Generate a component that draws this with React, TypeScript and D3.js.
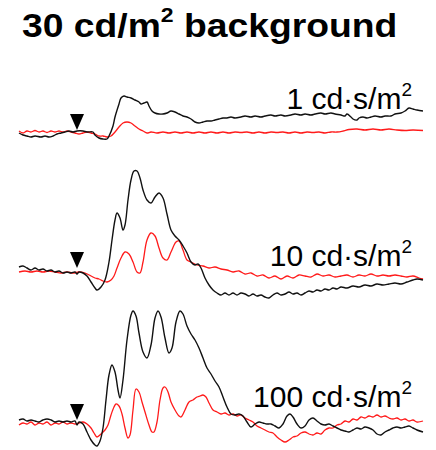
import React from "react";
import * as d3 from "d3";

// time (ms from flash) , amplitude (uV)
const black1: [number, number][] = [[-29,-2],[-27,-6],[-25,-8],[-23,-10],[-21,-8],[-18,-10],[-16,-8],[-14,-10],[-12,-8],[-10,-4],[-8,-2],[-6,0],[-4,2],[-2,0],[0,2],[3,2],[5,0],[8,0],[9,-6],[11,-12],[13,-14],[15,-14],[16,-8],[18,12],[19,30],[21,56],[22,68],[23.5,72],[25,70],[27,68],[29,64],[31,60],[32,56],[33.5,58],[35,60],[36,52],[37.5,42],[39,38],[41,36],[43,36],[45,38],[47,42],[49,40],[51,36],[53,32],[55,30],[57,26],[59,20],[61,18],[63,20],[65,22],[67,22],[69,24],[71,26],[73,28],[75,28],[77,30],[79,28],[82,30],[84,32],[87,30],[89,32],[92,30],[94,32],[97,34],[99,32],[102,34],[104,32],[107,34],[109,36],[112,34],[114,36],[117,34],[119,36],[122,38],[124,36],[127,38],[129,36],[132,34],[134,32],[135,36],[137,30],[138,26],[140,24],[141,28],[143,30],[145,28],[147,30],[149,32],[152,30],[154,32],[157,32],[159,36],[162,38],[164,42],[166,48],[168,46],[170,44],[173,42]];
const red1: [number, number][] = [[-29,2],[-27,-2],[-25,2],[-23,0],[-21,3],[-19,0],[-17,2],[-15,-1],[-13,2],[-11,0],[-9,2],[-7,0],[-5,2],[-3,0],[-1,-2],[1,-4],[3,-2],[5,0],[7,-2],[9,-4],[11,-8],[13,-8],[15,-10],[17,-8],[19,0],[21,10],[23,18],[25,20],[27,18],[29,12],[31,6],[33,2],[35,-2],[37,0],[40,-2],[43,0],[46,-2],[49,0],[52,-2],[55,0],[58,-2],[61,0],[64,-2],[67,0],[70,-2],[73,0],[76,-2],[79,0],[82,-1],[85,0],[88,-2],[91,0],[94,-2],[97,0],[100,-1],[103,0],[106,-2],[109,0],[112,-2],[115,0],[118,-1],[121,0],[124,-2],[127,0],[130,0],[133,2],[136,5],[140,6],[144,4],[148,6],[152,4],[156,6],[160,4],[164,3],[168,4],[173,3]];

const black2: [number, number][] = [[-29,6],[-27,8],[-25,4],[-23,0],[-21,4],[-19,0],[-17,2],[-15,-2],[-13,0],[-11,-4],[-9,-2],[-7,-6],[-5,-4],[-3,-6],[-1,-4],[0,-8],[1,-4],[3,-6],[5,-12],[7,-24],[9,-36],[10,-40],[12,-34],[14,-20],[16,16],[17.5,60],[19,100],[20,114],[21.5,104],[23,80],[24,90],[25.5,140],[27,180],[28.5,198],[30,198],[31.5,184],[33,160],[35,140],[37,134],[39,146],[41,154],[43,144],[45,112],[47,80],[49,68],[51,60],[53,48],[55,34],[57,16],[59,10],[60.5,12],[62,4],[64,-16],[66,-30],[68,-40],[70,-46],[72,-50],[74,-46],[76,-50],[78,-46],[80,-50],[82,-46],[84,-48],[86,-52],[88,-48],[90,-52],[92,-50],[94,-54],[96,-56],[98,-50],[100,-46],[102,-50],[104,-48],[106,-44],[108,-48],[110,-46],[112,-50],[114,-46],[116,-42],[118,-44],[120,-40],[122,-42],[124,-38],[126,-40],[128,-36],[130,-38],[132,-34],[135,-36],[138,-32],[141,-34],[144,-30],[147,-32],[150,-28],[153,-30],[156,-28],[159,-26],[162,-28],[165,-24],[168,-20],[170,-18],[173,-20]];
const red2: [number, number][] = [[-29,-4],[-26,-2],[-23,-4],[-20,-2],[-17,-4],[-14,-2],[-11,-4],[-8,-6],[-5,-4],[-2,-6],[1,-4],[4,-6],[7,-12],[9,-16],[11,-18],[13,-22],[15,-24],[17,-20],[18.5,-12],[20,4],[22,24],[24,36],[26,32],[28,16],[30,-4],[31.5,-6],[33,16],[35,60],[37,74],[39,68],[41,44],[43,24],[45,20],[47,36],[49.5,56],[51,58],[53,40],[55,20],[57,16],[60,10],[63,8],[66,4],[69,6],[72,2],[75,0],[78,-4],[81,-2],[84,-8],[87,-6],[90,-12],[93,-10],[96,-16],[99,-12],[102,-18],[105,-12],[108,-16],[111,-10],[114,-12],[117,-14],[120,-8],[123,-12],[126,-10],[129,-14],[132,-12],[135,-10],[138,-14],[141,-10],[144,-12],[147,-8],[150,-12],[153,-10],[156,-12],[159,-10],[162,-12],[165,-14],[168,-12],[171,-16],[173,-18]];

const black3: [number, number][] = [[-29,4],[-27,6],[-25,2],[-23,4],[-21,2],[-19,0],[-17,4],[-15,6],[-13,4],[-11,0],[-9,2],[-7,0],[-5,2],[-3,0],[-1,2],[0,-6],[1,0],[3,-4],[5,-20],[7,-36],[9,-46],[10,-48],[11.5,-38],[13,-12],[14.5,44],[16,94],[17.5,114],[19,100],[20.5,64],[21.5,48],[23,84],[25,164],[27,214],[28,222],[29.5,212],[31,178],[33,140],[35,128],[37,154],[39,208],[40.5,222],[42,210],[44,168],[46,138],[47.5,148],[49.5,200],[51.5,222],[53,216],[55,192],[57,176],[59,164],[61,148],[63,128],[65,108],[67,96],[69,82],[71,70],[73,50],[75,30],[77,16],[79,14],[81,16],[83,12],[85,0],[87,-10],[89,-4],[91,0],[93,-2],[95,-4],[97,-4],[99,-8],[101,-12],[103,-4],[105,12],[106.5,16],[108,10],[110,-4],[112,-12],[114,-8],[116,4],[118,8],[120,2],[122,-4],[124,-6],[126,-4],[128,-8],[130,-12],[132,-16],[134,-18],[136,-20],[138,-16],[140,-12],[142,-14],[144,-10],[146,-12],[148,-16],[150,-24],[152,-26],[154,-20],[156,-16],[158,-12],[160,-10],[162,-12],[164,-10],[166,-8],[168,-12],[170,-16],[173,-20]];
const red3: [number, number][] = [[-29,-6],[-27,-2],[-25,-4],[-23,0],[-21,-6],[-19,-2],[-17,-4],[-15,0],[-13,-6],[-11,-2],[-9,-4],[-7,0],[-5,-4],[-3,-2],[-1,-4],[1,-2],[3,0],[5,-4],[7,-12],[8.5,-22],[10,-30],[12,-24],[14,-16],[15.5,-6],[17,14],[18.5,30],[19.5,36],[21,32],[22.5,16],[24,-12],[25.5,-32],[26.5,-26],[28,24],[29.5,66],[31,60],[32.5,40],[34,20],[36,-6],[37.5,-20],[38.5,-20],[40,0],[41.5,44],[43,68],[44,70],[45.5,60],[47,40],[49,24],[51,12],[52,10],[54,24],[56,40],[58,44],[60,50],[61.5,52],[63,54],[64.5,50],[66,38],[68,24],[70,20],[72,16],[74,18],[76,14],[78,16],[80,12],[82,14],[84,8],[86,4],[88,0],[90,-8],[92,-12],[94,-16],[96,-20],[98,-22],[100,-30],[102,-36],[104,-40],[106,-36],[108,-30],[110,-28],[112,-22],[114,-20],[116,-24],[118,-26],[120,-22],[122,-24],[124,-16],[126,-12],[128,-12],[130,-6],[132,-4],[134,2],[136,0],[138,6],[140,4],[142,10],[144,8],[146,12],[148,10],[150,14],[152,10],[154,12],[156,8],[158,6],[160,8],[162,4],[164,6],[166,2],[168,4],[170,0],[173,2]];

const intensities = ["1", "10", "100"];
const flashTime = 0;

const W = 436;
const H = 450;
const FONT = "'Liberation Sans', Arial, Helvetica, sans-serif";

export default function App() {
  const x = d3.scaleLinear().domain([-29, 173]).range([19, 423]);

  // each panel: zero line position + label baseline
  const panels = [
    { black: black1, red: red1, base: 132, labelY: 109 },
    { black: black2, red: red2, base: 270, labelY: 266 },
    { black: black3, red: red3, base: 422, labelY: 407 },
  ];

  return (
    <svg width={W} height={H} style={{ position: "absolute", left: 0, top: 0, background: "#fff" }}>
      {/* title is a bit wider than plain Arial bold in the source */}
      <text transform="translate(22,37) scale(1.097,1)" fontFamily={FONT} fontWeight="bold" fontSize={34} fill="#000">
        30 cd/m<tspan fontSize={21} dy={-15}>2</tspan>
        <tspan dy={15}> background</tspan>
      </text>
      {panels.map((p, i) => {
        const y = d3.scaleLinear().domain([0, 100]).range([p.base, p.base - 50]);
        const line = d3
          .line<[number, number]>()
          .x((d) => x(d[0]))
          .y((d) => y(d[1]))
          .curve(d3.curveCatmullRom.alpha(0.5));
        const tx = x(flashTime);
        const ty = y(0) - 2;
        return (
          <g key={i}>
            <path d={line(p.red) || ""} fill="none" stroke="#ff1a1a" strokeWidth={1.3} />
            <path d={line(p.black) || ""} fill="none" stroke="#111" strokeWidth={1.4} />
            <path d={`M${tx},${ty} L${tx - 7},${ty - 16} L${tx + 7},${ty - 16} Z`} fill="#000" />
            <text x={412} y={p.labelY} textAnchor="end" fontFamily={FONT} fontSize={30} fill="#000">
              {intensities[i]} cd·s/m<tspan fontSize={19} dy={-13}>2</tspan>
            </text>
          </g>
        );
      })}
    </svg>
  );
}
